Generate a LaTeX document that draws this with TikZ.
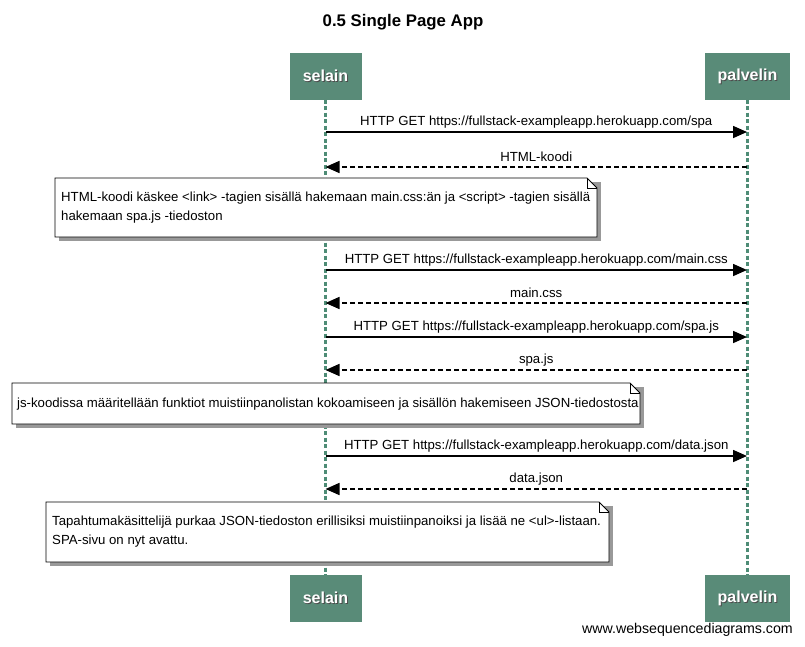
\documentclass[tikz,border=0pt]{standalone}
\usepackage{fontspec}
\setmainfont{Liberation Sans}
\usetikzlibrary{arrows.meta}
\definecolor{actor}{RGB}{89,139,120}
\definecolor{life}{RGB}{78,140,118}
\newcommand{\mynote}[4]{% x1,y1,x2,y2
  \fill[noteshadow] (#1+4,#2+4) rectangle (#3+4,#4+4);
  \draw[notebox] (#1,#2) -- (#3-10,#2) -- (#3,#2+10) -- (#3,#4) -- (#1,#4) -- cycle;
  \draw[line width=0.9pt] (#3-10,#2) -- (#3-10,#2+10) -- (#3,#2+10);
}
\begin{document}
\begin{tikzpicture}[x=1pt,y=-1pt,
 actorbox/.style={fill=actor, minimum height=47pt, inner sep=0pt},
 actortext/.style={text=white, font=\fontsize{16}{18}\selectfont\bfseries, inner sep=0pt},
 lifeline/.style={draw=life, line width=3pt, dash pattern=on 4pt off 2.5pt},
 msg/.style={line width=1.6pt, -{Triangle[length=14pt,width=12pt]}},
 reply/.style={msg, dash pattern=on 5pt off 3pt},
 lbl/.style={font=\fontsize{13.2}{15}\selectfont, inner sep=0pt},
 notetext/.style={font=\fontsize{13.2}{19}\selectfont, align=left, inner sep=0pt, anchor=west},
 notebox/.style={draw=black, fill=white, line width=0.9pt},
 noteshadow/.style={fill=black!40},
]
\useasboundingbox (0,0) rectangle (805,646);
\fill[white] (0,0) rectangle (805,646);

% title
\node[font=\fontsize{16.8}{19}\selectfont\bfseries, inner sep=0pt] (title) at (403,22) {0.5 Single Page App};

% actors
\node[actorbox, minimum width=72pt] (selTop) at (325.5,76) {};
\node[actorbox, minimum width=85pt] (palTop) at (747.5,76) {};
\node[actorbox, minimum width=72pt] (selBot) at (325.5,598) {};
\node[actorbox, minimum width=85pt] (palBot) at (747.5,598) {};
\foreach \n/\t in {selTop/selain, palTop/palvelin, selBot/selain, palBot/palvelin}{
  \node[actortext, text=black!70] at ([xshift=1pt,yshift=-1pt]\n.center) {\t};
  \node[actortext] (\n-lbl) at (\n.center) {\t};
}

% lifelines
\draw[lifeline] (selTop.south) -- (selBot.north);
\draw[lifeline] (palTop.south) -- (palBot.north);

% message anchor points
\foreach \i/\y in {1/132, 2/167, 3/270, 4/303, 5/337, 6/370, 7/456, 8/489}{
  \coordinate (s\i) at (325.5,\y);
  \coordinate (p\i) at (747,\y);
}

\draw[msg] (s1) -- (p1) node[lbl, midway, yshift=10pt] (m1) {HTTP GET https://fullstack-exampleapp.herokuapp.com/spa};
\draw[reply] (p2) -- (s2) node[lbl, midway, yshift=10pt] (m2) {HTML-koodi};
\draw[msg] (s3) -- (p3) node[lbl, midway, yshift=10pt] (m3) {HTTP GET https://fullstack-exampleapp.herokuapp.com/main.css};
\draw[reply] (p4) -- (s4) node[lbl, midway, yshift=10pt] (m4) {main.css};
\draw[msg] (s5) -- (p5) node[lbl, midway, yshift=10pt] (m5) {HTTP GET https://fullstack-exampleapp.herokuapp.com/spa.js};
\draw[reply] (p6) -- (s6) node[lbl, midway, yshift=10pt] (m6) {spa.js};
\draw[msg] (s7) -- (p7) node[lbl, midway, yshift=10pt] (m7) {HTTP GET https://fullstack-exampleapp.herokuapp.com/data.json};
\draw[reply] (p8) -- (s8) node[lbl, midway, yshift=10pt] (m8) {data.json};

% notes
\mynote{55}{178}{597}{237}
\node[notetext] (n1) at (61,208) {HTML-koodi käskee <link> -tagien sisällä hakemaan main.css:än ja <script> -tagien sisällä\\hakemaan spa.js -tiedoston};
\mynote{12}{383}{640}{424}
\node[notetext] (n2) at (17,404) {js-koodissa määritellään funktiot muistiinpanolistan kokoamiseen ja sisällön hakemiseen JSON-tiedostosta};
\mynote{46}{502}{609}{562}
\node[notetext] (n3) at (52,532) {Tapahtumakäsittelijä purkaa JSON-tiedoston erillisiksi muistiinpanoiksi ja lisää ne <ul>-listaan.\\SPA-sivu on nyt avattu.};

% watermark
\node[font=\fontsize{14.2}{16}\selectfont, inner sep=0pt, anchor=east] (wm) at (793,630) {www.websequencediagrams.com};
\end{tikzpicture}
\end{document}
